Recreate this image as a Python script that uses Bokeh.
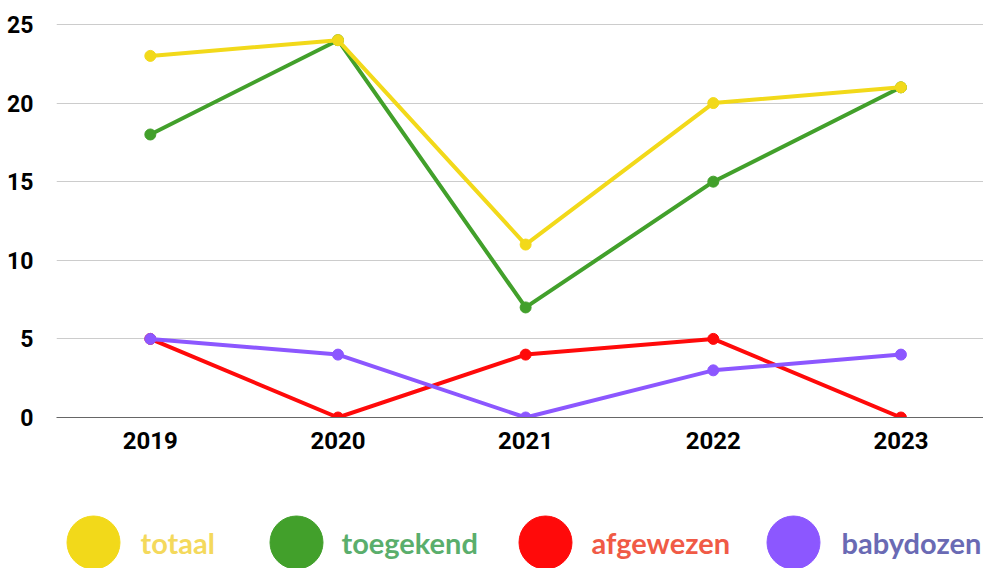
from bokeh.plotting import figure
from bokeh.models import Range1d, ColumnDataSource
from bokeh.layouts import column
from bokeh.embed import file_html
from bokeh.resources import INLINE
from bokeh.core.properties import value

years = ["2019", "2020", "2021", "2022", "2023"]
totaal = [23, 24, 11, 20, 21]
toegekend = [18, 24, 7, 15, 21]
afgewezen = [5, 0, 4, 5, 0]
babydozen = [5, 4, 0, 3, 4]

series_names = ["totaal", "toegekend", "afgewezen", "babydozen"]
line_colors = ["#f2d91a", "#42a02b", "#ff0a0a", "#8c57ff"]
text_colors = ["#f4d95c", "#5aae6c", "#f05a46", "#6a6ab4"]
y_ticks = [0, 5, 10, 15, 20, 25]

xs = list(range(len(years)))

W = 983
LEFT = 56
p = figure(width=W, height=470, output_backend="svg", toolbar_location=None,
           x_range=Range1d(-0.5, 4.44), y_range=Range1d(0, 25.06),
           min_border_left=LEFT, min_border_right=0, min_border_top=23, min_border_bottom=53)
p.outline_line_color = None
p.background_fill_color = "white"
p.border_fill_color = "white"

p.xgrid.grid_line_color = None
p.ygrid.grid_line_color = "#cccccc"
p.ygrid.grid_line_width = 1
p.ygrid.ticker = y_ticks

p.yaxis.ticker = y_ticks
p.yaxis.axis_line_color = None
p.yaxis.major_tick_line_color = None
p.yaxis.minor_tick_line_color = None
p.yaxis.major_label_text_font = "Roboto"
p.yaxis.major_label_text_font_style = "bold"
p.yaxis.major_label_text_font_size = "23px"
p.yaxis.major_label_text_color = "#000000"
p.yaxis.major_label_standoff = 17

p.xaxis.ticker = xs
p.xaxis.major_label_overrides = {i: y for i, y in enumerate(years)}
p.xaxis.axis_line_color = "#666666"
p.xaxis.axis_line_width = 1
p.xaxis.major_tick_line_color = None
p.xaxis.minor_tick_line_color = None
p.xaxis.major_label_text_font = "Roboto"
p.xaxis.major_label_text_font_style = "bold"
p.xaxis.major_label_text_font_size = "24px"
p.xaxis.major_label_text_color = "#000000"
p.xaxis.major_label_standoff = 8

data = {"totaal": totaal, "toegekend": toegekend, "afgewezen": afgewezen, "babydozen": babydozen}
draw_order = ["toegekend", "totaal", "afgewezen", "babydozen"]
for name in draw_order:
    c = line_colors[series_names.index(name)]
    src = ColumnDataSource(dict(x=xs, y=data[name]))
    p.line("x", "y", source=src, line_color=c, line_width=4)
    p.scatter("x", "y", source=src, size=11, fill_color=c, line_color=c)

# legend strip (x coordinates are screen pixels of the page)
LH = 98
lg = figure(width=W, height=LH, output_backend="svg", toolbar_location=None,
            x_range=Range1d(LEFT, W), y_range=Range1d(0, LH),
            min_border_left=LEFT, min_border_right=0, min_border_top=0, min_border_bottom=0)
lg.outline_line_color = None
lg.xaxis.visible = False
lg.yaxis.visible = False
lg.grid.visible = False

circle_x = [93, 296, 545, 793]
label_x = [140, 341, 591, 841]
row_y = 26
lsrc = ColumnDataSource(dict(cx=circle_x, tx=label_x, y=[row_y] * 4, name=series_names,
                             fc=line_colors, tc=text_colors))
lg.scatter("cx", "y", source=lsrc, size=53, fill_color="fc", line_color="fc")
lg.text("tx", "y", text="name", source=lsrc, text_color="tc", text_font=value("Lato"),
        text_font_style="bold", text_font_size="29px", text_baseline="middle", text_align="left")

layout = column(p, lg, spacing=0)
open("out.html", "w").write(file_html(layout, INLINE))
